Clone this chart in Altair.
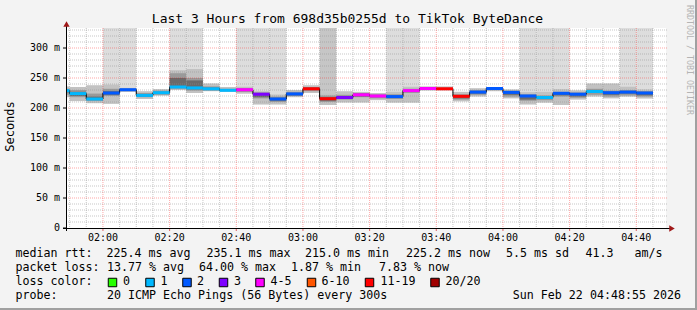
import altair as alt
import pandas as pd

# ---------------- data ----------------
bin_start = ["01:48:55", "01:50", "01:55", "02:00", "02:05", "02:10", "02:15", "02:20",
             "02:25", "02:30", "02:35", "02:40", "02:45", "02:50", "02:55", "03:00",
             "03:05", "03:10", "03:15", "03:20", "03:25", "03:30", "03:35", "03:40",
             "03:45", "03:50", "03:55", "04:00", "04:05", "04:10", "04:15", "04:20",
             "04:25", "04:30", "04:35", "04:40"]
last_end = "04:45"
window = ["01:48:55", "04:48:55"]

median_ms = [229, 224, 215, 225, 230.5, 221, 225.5, 235, 233.5, 232, 229.5, 230.5,
             223, 215, 223.5, 232, 215.5, 217.5, 222, 220, 219, 229, 232.5, 232,
             219.5, 226.5, 232.5, 226, 220, 217.5, 224.5, 223, 227.5, 225.5, 226.5, 225]

loss_cat = ["1", "1", "1", "2", "2", "1", "1", "1", "1", "1", "1", "4-5",
            "3", "2", "2", "11-19", "11-19", "3", "4-5", "4-5", "2", "4-5", "4-5", "11-19",
            "11-19", "2", "2", "2", "2", "1", "2", "2", "1", "2", "2", "2"]

smoke_hi = [236, 235, 238, 239, 233.5, 228, 231.5, 263, 265, 241, 235, 235.5,
            228, 222.5, 230, 238, 224, 228, 227, 225, 227, 235.5, 236, 236,
            227, 233, 235, 231, 226.5, 227, 231.5, 229.5, 241, 241, 235.5, 231]
smoke_lo = [218, 211.5, 208, 207, 227, 215, 220.5, 230, 225, 228, 227, 224,
            206, 206, 218, 225, 205, 209, 209, 213, 209, 209, 229, 229.5,
            211, 219, 228, 216, 206, 209, 205, 214, 219, 216, 219, 216]
mid_hi = [232, 230, 224, 232, 232, 225, 229, 258, 250, 236, 232, 233,
          226, 219, 227, 235, 221, 222, 225, 223, 223, 232, 234, 234,
          223, 230, 234, 229, 223, 221, 227, 226, 232, 229, 230, 228]
mid_lo = [222, 218, 212, 220, 228, 218, 222, 232, 229, 229, 228, 227,
          216, 210, 220, 228, 210, 214, 218, 216, 215, 225, 230, 230,
          214, 222, 230, 219, 212, 213, 219, 217, 222, 219, 221, 219]
dark_hi = [230, 227, 219, 228, 231.5, 223, 227, 250, 246, 234, 231, 232,
           224, 217, 225, 234, 218, 220, 224, 221, 221, 230, 233.5, 233,
           221, 228, 233.5, 228, 221, 219, 226, 224, 229, 227, 228, 227]
dark_lo = [226, 220, 213, 222, 229, 219, 224, 234, 231, 231, 229, 228,
           218, 212, 221, 230, 212, 215, 219, 218, 217, 227, 231, 231,
           216, 224, 231, 222, 214, 215, 221, 219, 225, 222, 224, 221]
# 0 = none, 1 = light gray up to top, 2 = darker gray up to top
upper_missing = [0, 0, 0, 1, 1, 0, 0, 1, 1, 0, 0, 1,
                 1, 1, 0, 0, 2, 0, 0, 0, 1, 1, 0, 0,
                 0, 0, 0, 0, 1, 1, 1, 0, 0, 0, 1, 1]

loss_labels = ["0", "1", "2", "3", "4-5", "6-10", "11-19", "20/20"]
loss_colors = ["#26ff00", "#00b8ff", "#0059ff", "#7e00ff", "#ff00ff", "#ff5500", "#ff0000", "#a00000"]

y_ticks = [0, 50, 100, 150, 200, 250, 300]
y_tick_labels = ["0", "50 m", "100 m", "150 m", "200 m", "250 m", "300 m"]
x_ticks = ["02:00", "02:20", "02:40", "03:00", "03:20", "03:40", "04:00", "04:20", "04:40"]

title_text = "Last 3 Hours from 698d35b0255d to TikTok ByteDance"
row1 = ["median rtt:", "225.4 ms avg", "235.1 ms max", "215.0 ms min", "225.2 ms now",
        "5.5 ms sd", "41.3", "am/s"]
row2 = ["packet loss:", "13.77 % avg", "64.00 % max", "1.87 % min", "7.83 % now"]
row3_head = "loss color:"
row4 = ["probe:", "20 ICMP Echo Pings (56 Bytes) every 300s", "Sun Feb 22 04:48:55 2026"]
side_text = "RRDTOOL / TOBI OETIKER"


def to_min(s):
    p = [int(v) for v in s.split(":")]
    m = p[0] * 60 + p[1]
    if len(p) > 2:
        m += p[2] / 60
    return m


# ---------------- tables ----------------
starts = [to_min(s) for s in bin_start]
ends = starts[1:] + [to_min(last_end)]
df = pd.DataFrame({
    "start": starts, "end": ends, "median": median_ms, "loss": loss_cat,
    "s_lo": smoke_lo, "s_hi": smoke_hi, "m_lo": mid_lo, "m_hi": mid_hi,
    "d_lo": dark_lo, "d_hi": dark_hi, "up": upper_missing,
})
df_line = pd.DataFrame({"t": starts + [ends[-1]], "median": median_ms + [median_ms[-1]]})
df_yt = pd.DataFrame({"v": y_ticks, "lab": y_tick_labels})
df_xt = pd.DataFrame({"v": [to_min(v) for v in x_ticks], "lab": x_ticks})

W, H = 600, 200
FONT = "DejaVu Sans Mono"
t0, t1 = to_min(window[0]), to_min(window[1])
xs = alt.Scale(domain=[t0, t1], nice=False, zero=False)
ys = alt.Scale(domain=[0, 1000 / 3], nice=False, zero=False)

x_major = [to_min(v) for v in x_ticks]
x_minor = [v for v in range(110, 290, 5) if v % 20 != 0]
y_minor = [v for v in range(10, 334, 10) if v % 50 != 0]
y_major = [v for v in y_ticks if v > 0]


def X(f):
    return alt.X(f, scale=xs, axis=None)


def Y(f):
    return alt.Y(f, scale=ys, axis=None)


base = alt.Chart(df)

tall_light = base.mark_rect(color="#dddddd").encode(
    x=X("start:Q"), x2="end:Q", y=Y("s_lo:Q"), y2=alt.value(0)
).transform_filter("datum.up == 1")
tall_dark = base.mark_rect(color="#c6c6c6").encode(
    x=X("start:Q"), x2="end:Q", y=Y("s_lo:Q"), y2=alt.value(0)
).transform_filter("datum.up == 2")

smoke_outer = base.mark_rect(color="#c2c2c2").encode(
    x=X("start:Q"), x2="end:Q", y=Y("s_lo:Q"), y2="s_hi:Q")
smoke_mid = base.mark_rect(color="#9a9a9a").encode(
    x=X("start:Q"), x2="end:Q", y=Y("m_lo:Q"), y2="m_hi:Q")
smoke_dark = base.mark_rect(color="#6a6a6a").encode(
    x=X("start:Q"), x2="end:Q", y=Y("d_lo:Q"), y2="d_hi:Q")

grid_minor_h = alt.Chart(pd.DataFrame({"v": y_minor})).mark_rule(
    color="#909090", opacity=0.5, strokeDash=[1, 1], strokeWidth=1).encode(
    y=Y("v:Q"), x=alt.value(0), x2=alt.value(W + 2))
grid_minor_v = alt.Chart(pd.DataFrame({"v": x_minor})).mark_rule(
    color="#909090", opacity=0.5, strokeDash=[1, 1], strokeWidth=1).encode(
    x=X("v:Q"), y=alt.value(0), y2=alt.value(H))
grid_major_h = alt.Chart(pd.DataFrame({"v": y_major})).mark_rule(
    color="#ff0000", opacity=0.35, strokeDash=[1, 1], strokeWidth=1).encode(
    y=Y("v:Q"), x=alt.value(0), x2=alt.value(W + 2))
grid_major_v = alt.Chart(pd.DataFrame({"v": x_major})).mark_rule(
    color="#ff0000", opacity=0.35, strokeDash=[1, 1], strokeWidth=1).encode(
    x=X("v:Q"), y=alt.value(0), y2=alt.value(H))

step_line = alt.Chart(df_line).mark_line(interpolate="step-after", color="#000000",
                                         strokeWidth=1).encode(
    x=X("t:Q"), y=Y("median:Q"))

medians = base.mark_rule(strokeWidth=3, strokeCap="butt").encode(
    x=X("start:Q"), x2="end:Q", y=Y("median:Q"),
    color=alt.Color("loss:N", scale=alt.Scale(domain=loss_labels, range=loss_colors), legend=None))

# axis labels and ticks, positioned through the scales
y_tick_marks = alt.Chart(df_yt).mark_rule(color="#000000", strokeWidth=1).encode(
    y=Y("v:Q"), x=alt.value(-3), x2=alt.value(0))
y_tick_text = alt.Chart(df_yt).mark_text(font=FONT, fontSize=10, align="right",
                                         baseline="middle", color="#000000").encode(
    y=Y("v:Q"), x=alt.value(-6), text="lab:N")
x_tick_marks = alt.Chart(df_xt).mark_rule(color="#e06060", strokeWidth=1).encode(
    x=X("v:Q"), y=alt.value(H), y2=alt.value(H + 3))
x_tick_text = alt.Chart(df_xt).mark_text(font=FONT, fontSize=10, align="center",
                                         baseline="middle", color="#000000").encode(
    x=X("v:Q"), y=alt.value(H + 10), text="lab:N")

one = pd.DataFrame({"a": [0]})


def rule(**kw):
    return alt.Chart(one).mark_rule(color="#000000", strokeWidth=1).encode(
        **{k: alt.value(v) for k, v in kw.items()})


def text(s, x, y, size=11.65, align="left", color="#000000", angle=None, baseline="middle"):
    props = dict(font=FONT, fontSize=size, align=align, baseline=baseline, color=color)
    if angle is not None:
        props["angle"] = angle
    return alt.Chart(one).mark_text(**props).encode(
        x=alt.value(x), y=alt.value(y), text=alt.value(s))


axis_layers = [
    y_tick_marks, y_tick_text, x_tick_marks, x_tick_text,
    rule(x=0.5, y=H + 3, y2=-3),
    rule(x=-3, x2=W + 5, y=H + 0.5),
    alt.Chart(one).mark_point(shape="triangle-up", filled=True, color="#a01818", size=40,
                              opacity=1).encode(x=alt.value(0.5), y=alt.value(-4)),
    alt.Chart(one).mark_point(shape="triangle-right", filled=True, color="#a01818", size=40,
                              opacity=1).encode(x=alt.value(W + 6), y=alt.value(H + 0.5)),
    # 3D frame of the image
    alt.Chart(one).mark_rule(color="#a0a0a0", strokeWidth=2).encode(
        x=alt.value(-66), x2=alt.value(631), y=alt.value(281)),
    alt.Chart(one).mark_rule(color="#a0a0a0", strokeWidth=2).encode(
        x=alt.value(630), y=alt.value(-28), y2=alt.value(282)),
]

text_layers = [
    text(title_text, 281.5, -9, size=13, align="center"),
    text("Seconds", -56, 98.5, size=12, align="center", angle=270),
    text(side_text, 623, -23, size=8.3, color="#b4b4b4", angle=90),
]
row1_x = [-50.5, 40.5, 140.5, 239, 340, 440, 519.5, 568.5]
for s, x in zip(row1, row1_x):
    text_layers.append(text(s, x, 226.3))
row2_x = [-50.5, 41, 133, 225, 313]
for s, x in zip(row2, row2_x):
    text_layers.append(text(s, x, 240.3))
text_layers.append(text(row3_head, -50.5, 254.3))
box_x = [46.5, 84, 121, 157.5, 194, 245.5, 303.5, 369]
lab_x = [57, 94.5, 131, 168, 204.5, 255.5, 314.5, 379.5]
for lab, col, bx, lx in zip(loss_labels, loss_colors, box_x, lab_x):
    text_layers.append(alt.Chart(one).mark_square(size=72, filled=True, color=col, stroke="#000000",
                                                  strokeWidth=1, opacity=1).encode(
        x=alt.value(bx), y=alt.value(254.5)))
    text_layers.append(text(lab, lx, 254.3))
text_layers.append(text(row4[0], -50.5, 268))
text_layers.append(text(row4[1], 41, 268))
text_layers.append(text(row4[2], 615, 268, align="right"))

chart = alt.layer(
    tall_light, tall_dark, smoke_outer, smoke_mid, smoke_dark,
    grid_minor_h, grid_minor_v, grid_major_h, grid_major_v,
    step_line, medians, *axis_layers, *text_layers
).properties(
    width=W, height=H,
    padding={"left": 66, "top": 28, "right": 31, "bottom": 82},
    autosize=alt.AutoSizeParams(type="none"),
).configure(background="#f3f3f3").configure_view(stroke=None, fill="#ffffff")

chart.save("out.html", embed_options={"renderer": "svg", "actions": False})
